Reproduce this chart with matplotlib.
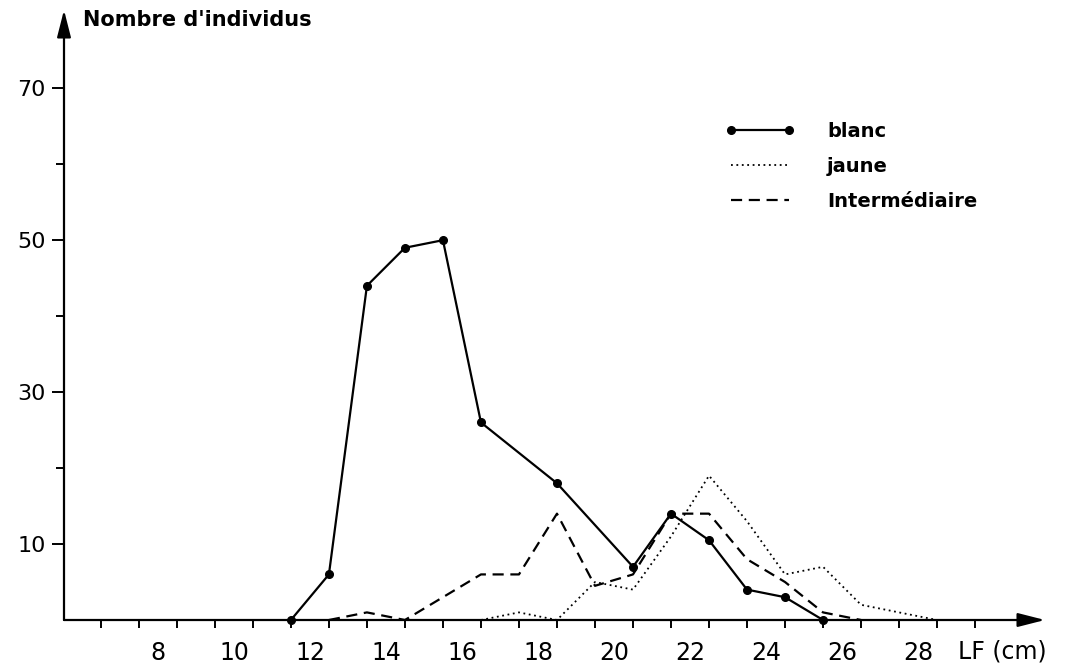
import matplotlib
matplotlib.use('Agg')
import matplotlib.pyplot as plt
from matplotlib.ticker import FixedLocator, NullFormatter

# class midpoints (LF, cm) and counts
blanc_x = [11.5, 12.5, 13.5, 14.5, 15.5, 16.5, 18.5, 20.5, 21.5, 22.5, 23.5, 24.5, 25.5]
blanc_y = [0, 6, 44, 49, 50, 26, 18, 7, 14, 10.5, 4, 3, 0]

jaune_x = [16.5, 17.5, 18.5, 19.5, 20.5, 21.5, 22.5, 23.5, 24.5, 25.5, 26.5, 27.5, 28.5]
jaune_y = [0, 1, 0, 5, 4, 11, 19, 13, 6, 7, 2, 1, 0]

inter_x = [12.5, 13.5, 14.5, 15.5, 16.5, 17.5, 18.5, 19.5, 20.5, 21.5, 22.5, 23.5, 24.5, 25.5, 26.5]
inter_y = [0, 1, 0, 3, 6, 6, 14, 4.5, 6, 14, 14, 8, 5, 1, 0]

x_labels = [8, 10, 12, 14, 16, 18, 20, 22, 24, 26, 28]
x_ticks = [v + 0.5 for v in range(6, 30)]
y_labels = [10, 30, 50, 70]
y_minor = [20, 40, 60]

plt.rcParams['font.family'] = 'DejaVu Sans'

W, H = 1090, 671
fig = plt.figure(figsize=(W / 100, H / 100), dpi=100)
ax = fig.add_axes([64 / W, 51 / H, 981 / W, 610 / H])

ax.plot(blanc_x, blanc_y, color='black', lw=1.6, marker='o', markersize=5.5, label='blanc', clip_on=False)
ax.plot(jaune_x, jaune_y, color='black', lw=1.3, linestyle=(0, (1, 2)), label='jaune', clip_on=False)
ax.plot(inter_x, inter_y, color='black', lw=1.6, linestyle=(0, (5, 3)), label='Intermédiaire', clip_on=False)

ax.set_xlim(5.53, 31.34)
ax.set_ylim(0, 80.3)

for s in ax.spines.values():
    s.set_visible(False)

arrow = dict(arrowstyle='-|>,head_length=1.1,head_width=0.28', color='black', lw=1.6, mutation_scale=15,
             shrinkA=0, shrinkB=0)
ax.annotate('', xy=(1, 0), xytext=(0, 0), xycoords='axes fraction', arrowprops=arrow)
ax.annotate('', xy=(0, 1), xytext=(0, 0), xycoords='axes fraction', arrowprops=arrow)

ax.set_xticks(x_labels)
ax.set_xticklabels([str(v) for v in x_labels])
ax.xaxis.set_minor_locator(FixedLocator(x_ticks))
ax.xaxis.set_minor_formatter(NullFormatter())
ax.tick_params(axis='x', which='major', length=0, pad=15, labelsize=17)
ax.tick_params(axis='x', which='minor', length=5.5, width=1.4, direction='out')

ax.set_yticks(y_labels)
ax.set_yticklabels([str(v) for v in y_labels])
ax.yaxis.set_minor_locator(FixedLocator(y_minor))
ax.yaxis.set_minor_formatter(NullFormatter())
ax.tick_params(axis='y', which='major', length=9, width=1.4, pad=4, labelsize=16)
ax.tick_params(axis='y', which='minor', length=5.5, width=1.4)

fig.text(83 / W, 1 - 20 / H, "Nombre d'individus", fontsize=15, fontweight='bold', va='center', ha='left')
fig.text(958 / W, 1 - 652 / H, 'LF (cm)', fontsize=17, va='center', ha='left')

ax.legend(loc='upper left', bbox_to_anchor=(725 / W, 1 - 122 / H), bbox_transform=fig.transFigure,
          frameon=False, numpoints=2, handlelength=3.6, handletextpad=1.65, labelspacing=0.82,
          borderpad=0, borderaxespad=0, prop={'size': 14, 'weight': 'bold'})

fig.savefig('out.png', dpi=100)
